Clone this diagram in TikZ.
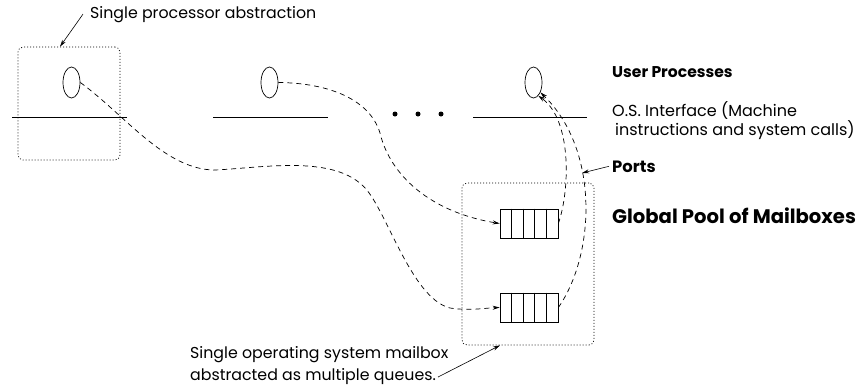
\documentclass[tikz,border=0pt]{standalone}
\usepackage{fontspec}
\setmainfont{Poppins}
\usetikzlibrary{shapes.geometric,arrows.meta}
\tikzstyle{proc} = [ellipse, draw, line width=0.7pt, minimum width=17pt, minimum height=31pt, inner sep=0pt]
\tikzstyle{queue} = [rectangle, draw, line width=0.7pt, minimum width=58pt, minimum height=29pt, inner sep=0pt]
\tikzstyle{group} = [rectangle, draw, rounded corners=5pt, line width=0.7pt, dash pattern=on 1pt off 2pt]
\tikzstyle{dot} = [circle, fill, minimum size=5pt, inner sep=0pt]
\tikzstyle{msg} = [line width=0.7pt, dash pattern=on 5pt off 4pt, -{Stealth[length=7pt,width=4pt]}]
\tikzstyle{pointer} = [line width=0.6pt, -{Stealth[length=7pt,width=4pt]}]
\tikzstyle{lbl} = [anchor=base west, inner sep=0pt, font=\fontsize{15.8}{22}\selectfont]
\tikzstyle{title} = [anchor=base west, inner sep=0pt, font=\fontsize{15.6}{18}\selectfont\bfseries]

\begin{document}
\begin{tikzpicture}[x=1pt, y=-1pt]
    \useasboundingbox (0,0) rectangle (860,389);

    % processes and their interface lines
    \node (e1) [proc] at (71.5,82.5) {};
    \node (e2) [proc] at (269.5,82.5) {};
    \node (e3) [proc] at (533.5,82.5) {};
    \draw [line width=0.7pt] (12,117) -- (127,117);
    \draw [line width=0.7pt] (213,117) -- (328,117);
    \draw [line width=0.7pt] (473,117) -- (587,117);
    \node (d1) [dot] at (395,114) {};
    \node (d2) [dot] at (418,114) {};
    \node (d3) [dot] at (441,114) {};

    \node (procbox) [group, minimum width=102pt, minimum height=113pt] at (69,103.5) {};
    \node (mbox) [group, minimum width=132pt, minimum height=162pt] at (528,264) {};

    % mailbox queues
    \node (q1) [queue] at (529,223.5) {};
    \node (q2) [queue] at (529,307.5) {};
    \foreach \k in {1,...,4} {
        \draw [line width=0.7pt] ([xshift=\k*11.6pt]q1.north west) -- ([xshift=\k*11.6pt]q1.south west);
        \draw [line width=0.7pt] ([xshift=\k*11.6pt]q2.north west) -- ([xshift=\k*11.6pt]q2.south west);
    }

    \draw [msg] (e1.east) .. controls (125,115) and (165,170) .. (215,170)
        .. controls (260,168) and (330,155) .. (362,185)
        .. controls (385,204) and (410,298) .. (450,308)
        .. controls (470,311) and (485,308) .. (q2.west);
    \draw [msg] (e2.east) .. controls (330,83) and (370,100) .. (380,133)
        .. controls (390,175) and (430,212) .. (q1.west);
    \draw [msg] (q1.east) .. controls (570,190) and (572,120) .. (e3.-70);
    \draw [msg] (q2.east) .. controls (595,255) and (600,150) .. (e3.-55);

    % labels
    \node (sp) [lbl] at (90,18) {Single processor abstraction};
    \draw [pointer] ([xshift=-7pt]sp.west) -- ([xshift=-9pt]procbox.north);

    \node (up) [title] at (612,77) {User Processes};
    \node (os) [lbl, align=left, font=\fontsize{16}{17}\selectfont] at (612,135) {O.S. Interface (Machine\\\hspace{3pt}instructions and system calls)};
    \node (ports) [title, font=\fontsize{16.4}{18}\selectfont\bfseries] at (612,172) {Ports};
    \coordinate (portpt) at (582,173);
    \draw [pointer] ([xshift=-3pt]ports.west) -- (portpt);
    \node (pool) [title, font=\fontsize{19.6}{22}\selectfont\bfseries] at (612,223) {Global Pool of Mailboxes};

    \node (mb1) [lbl] at (190,358) {Single operating system mailbox};
    \node (mb2) [lbl] at (190,380) {abstracted as multiple queues.};
    \draw [pointer] ([xshift=2pt,yshift=3pt]mb2.base east) -- ([xshift=-28pt]mbox.south);
  \end{tikzpicture}
\end{document}
